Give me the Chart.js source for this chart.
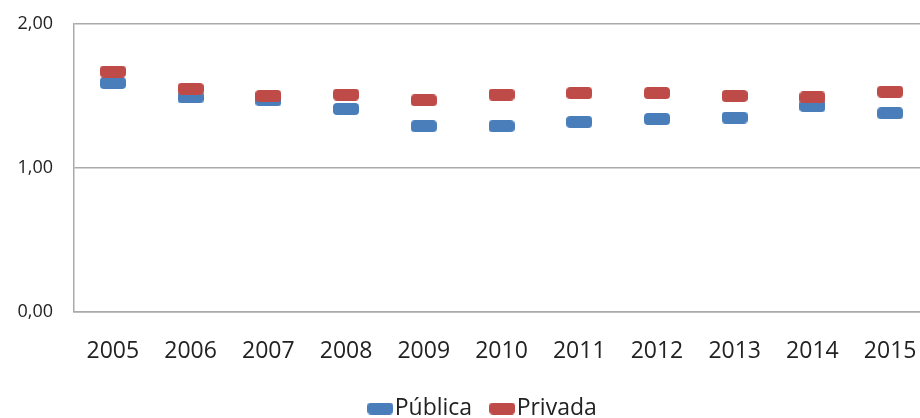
<!DOCTYPE html>
<html>
<head>
<meta charset="utf-8">
<script src="https://cdn.jsdelivr.net/npm/chart.js@4/dist/chart.umd.min.js"></script>
<style>
    html, body { margin: 0; padding: 0; background: #fff; }
    #wrap { width: 920px; height: 418px; overflow: hidden; position: relative; }
    canvas { display: block; }
</style>
</head>
<body>
<div id="wrap"><canvas id="grafico" width="976" height="430"></canvas></div>
<script>
// anos e valores por rede
const anos = ['2005', '2006', '2007', '2008', '2009', '2010', '2011', '2012', '2013', '2014', '2015'];
const publica = [1.59, 1.49, 1.47, 1.41, 1.29, 1.29, 1.32, 1.34, 1.35, 1.43, 1.38];
const privada = [1.67, 1.55, 1.50, 1.51, 1.47, 1.51, 1.52, 1.52, 1.50, 1.49, 1.53];
const ticksY = [0, 1, 2];

const AZUL = '#4A7EBB';
const VERMELHO = '#BE4B48';
const CINZA = '#aaaaaa';

// marcador em forma de traço arredondado
function criarMarcador(cor) {
    const c = document.createElement('canvas');
    c.width = 26;
    c.height = 12;
    const g = c.getContext('2d');
    g.fillStyle = cor;
    g.beginPath();
    g.roundRect(0, 0, 26, 12, 4);
    g.fill();
    return c;
}

// empurra a legenda um pouco para a direita
const deslocaLegenda = {
    id: 'deslocaLegenda',
    afterLayout: function(chart) {
        if (chart.legend) {
            chart.legend.left += 45;
        }
    }
};

document.addEventListener('DOMContentLoaded', function() {
    const ctx = document.getElementById('grafico').getContext('2d');
    const fonte = "'Open Sans', sans-serif";

    new Chart(ctx, {
        type: 'line',
        data: {
            labels: anos,
            datasets: [{
                label: 'Pública',
                data: publica,
                order: 2,
                showLine: false,
                pointStyle: criarMarcador(AZUL),
                pointRadius: 13,
                backgroundColor: AZUL,
                borderColor: AZUL
            }, {
                label: 'Privada',
                data: privada,
                order: 1,
                showLine: false,
                pointStyle: criarMarcador(VERMELHO),
                pointRadius: 13,
                backgroundColor: VERMELHO,
                borderColor: VERMELHO
            }]
        },
        plugins: [deslocaLegenda],
        options: {
            responsive: false,
            animation: false,
            layout: {
                autoPadding: false,
                padding: { top: 24, left: 0, right: 47, bottom: 0 }
            },
            plugins: {
                legend: {
                    position: 'bottom',
                    labels: {
                        usePointStyle: true,
                        pointStyleWidth: 6,
                        boxHeight: 12,
                        padding: 27,
                        color: '#222',
                        font: { family: fonte, size: 23 },
                        sort: (a, b) => a.datasetIndex - b.datasetIndex
                    }
                },
                tooltip: { enabled: false }
            },
            scales: {
                x: {
                    offset: true,
                    grid: { display: false, drawTicks: false },
                    border: { display: true, color: CINZA, width: 1.5 },
                    ticks: {
                        padding: 26,
                        color: '#222',
                        maxRotation: 0,
                        font: { family: fonte, size: 23 }
                    },
                    afterFit: function(scale) {
                        scale.height = 58;
                    }
                },
                y: {
                    min: 0,
                    max: 2,
                    afterBuildTicks: function(scale) {
                        scale.ticks = ticksY.map(v => ({ value: v }));
                    },
                    grid: { color: CINZA, lineWidth: 1.5, drawTicks: false },
                    border: { display: true, color: CINZA, width: 1.5 },
                    ticks: {
                        padding: 21,
                        color: '#222',
                        font: { family: fonte, size: 18 },
                        callback: function(value) {
                            return value.toFixed(2).replace('.', ',');
                        }
                    },
                    afterFit: function(scale) {
                        scale.width = 74;
                        scale.paddingTop = 0;
                        scale.paddingBottom = 0;
                    }
                }
            }
        }
    });
});
</script>
</body>
</html>
